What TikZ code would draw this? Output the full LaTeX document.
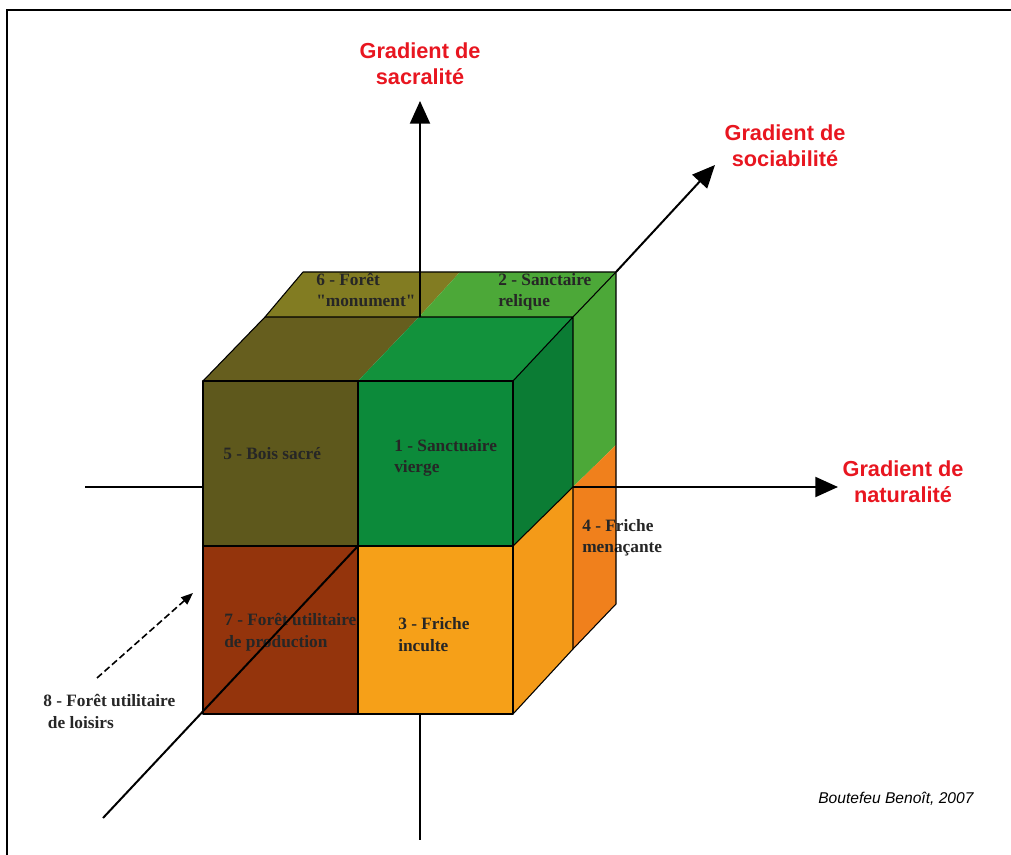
\documentclass[tikz,border=0pt]{standalone}
\usepackage{fontspec}
\setmainfont{Liberation Serif}[Ligatures=TeXOff]
\setsansfont{Liberation Sans}
\usetikzlibrary{arrows.meta}
\definecolor{gradred}{RGB}{232,22,32}
\definecolor{olivedark}{RGB}{94,88,28}
\definecolor{olivetop}{RGB}{102,94,30}
\definecolor{olivelight}{RGB}{130,124,34}
\definecolor{greenfront}{RGB}{12,138,58}
\definecolor{greentop}{RGB}{18,146,60}
\definecolor{greenside}{RGB}{11,124,52}
\definecolor{greenlight}{RGB}{76,168,56}
\definecolor{brownred}{RGB}{148,52,12}
\definecolor{orangefront}{RGB}{246,160,24}
\definecolor{orangeside}{RGB}{244,154,24}
\definecolor{orangedeep}{RGB}{240,128,28}

\begin{document}
\begin{tikzpicture}[
    x=0.75pt, y=-0.75pt,
    cell/.style={font=\bfseries\fontsize{13}{16}\selectfont, align=left, anchor=base west, inner sep=0pt, text=black!85},
    grad/.style={font=\sffamily\bfseries\fontsize{16.3}{20}\selectfont, text=gradred, align=center, anchor=base, inner sep=0pt},
    rim/.style={line width=0.8pt, line join=round},
    gaxis/.style={line width=1.5pt, -{Triangle[length=17pt, width=15pt]}},
    gline/.style={line width=1.5pt}
]
  \useasboundingbox (0,0) rectangle (1011,855);
  \draw[line width=1.5pt] (7,855) -- (7,10) -- (1011,10);

  % corners: front, middle and back planes
  \coordinate (F00) at (203,381); \coordinate (F10) at (358,381); \coordinate (F20) at (513,381);
  \coordinate (F01) at (203,546); \coordinate (F11) at (358,546); \coordinate (F21) at (513,546);
  \coordinate (F02) at (203,714); \coordinate (F12) at (358,714); \coordinate (F22) at (513,714);
  \coordinate (M00) at (265,317); \coordinate (M10) at (419,317); \coordinate (M20) at (573,317);
  \coordinate (M21) at (573,487); \coordinate (M22) at (573,649);
  \coordinate (B00) at (303,272); \coordinate (B10) at (460,272); \coordinate (B20) at (616,272);
  \coordinate (B21) at (616,445); \coordinate (B22) at (616,604);

  % faces
  \fill[olivedark] (F00) rectangle (F11);
  \fill[greenfront] (F10) rectangle (F21);
  \fill[brownred] (F01) rectangle (F12);
  \fill[orangefront] (F11) rectangle (F22);
  \fill[olivetop] (F00) -- (M00) -- (M10) -- (F10) -- cycle;
  \fill[greentop] (F10) -- (M10) -- (M20) -- (F20) -- cycle;
  \fill[olivelight] (M00) -- (B00) -- (B10) -- (M10) -- cycle;
  \fill[greenlight] (M10) -- (B10) -- (B20) -- (M20) -- cycle;
  \fill[greenside] (F20) -- (M20) -- (M21) -- (F21) -- cycle;
  \fill[orangeside] (F21) -- (M21) -- (M22) -- (F22) -- cycle;
  \fill[greenlight] (M20) -- (B20) -- (B21) -- (M21) -- cycle;
  \fill[orangedeep] (M21) -- (B21) -- (B22) -- (M22) -- cycle;

  % labels (base = last line)
  \node[cell] (forest6) at (316,307) {6 - Forêt\\"monument"};
  \node[cell] (sanct2) at (498,307) {2 - Sanctaire\\relique};
  \node[cell] (bois5) at (223,460) {5 - Bois sacré};
  \node[cell] (sanct1) at (394,473) {1 - Sanctuaire\\vierge};
  \node[cell] (forest7) at (224,647) {7 - Forêt utilitaire\\de production};
  \node[cell] (friche3) at (398,651) {3 - Friche\\inculte};
  \node[cell] (friche4) at (582,553) {4 - Friche\\menaçante};
  \node[cell] (forest8) at (43,728) {8 - Forêt utilitaire\\\hspace*{3.5pt}de loisirs};

  \node[grad] (sacLbl) at (420,85) {Gradient de\\sacralité};
  \node[grad] (socLbl) at (785,167) {Gradient de\\sociabilité};
  \node[grad] (natLbl) at (903,503) {Gradient de\\naturalité};
  \node[font=\sffamily\itshape\fontsize{11.7}{14}\selectfont, anchor=base west, inner sep=0pt] (credit) at (818,803) {Boutefeu Benoît, 2007};

  % edges
  \draw[rim] (F00) rectangle (F22);
  \draw[rim] (F10) -- (F12) (F01) -- (F21);
  \draw[rim] (F00) -- (M00) -- (B00) -- (B20) -- (B22) -- (M22) -- (F22);
  \draw[rim] (M00) -- (M20) -- (F20) (M20) -- (M22) (M20) -- (B20);
  \draw[rim] (F21) -- (M21);

  % axes
  \coordinate (sacTip) at (420,101);
  \coordinate (sacLow) at (420,840);
  \coordinate (socTip) at (715,165);
  \coordinate (socLow) at (103,818);
  \coordinate (natTip) at (838,487);
  \coordinate (natLow) at (85,487);
  \draw[gaxis] (420,317) -- (sacTip);
  \draw[gline] (420,714) -- (sacLow);
  \draw[gaxis] (B20) -- (socTip);
  \draw[gline] (socLow) -- (F11);
  \draw[gaxis] (M21) -- (natTip);
  \draw[gline] (natLow) -- (203,487);

  \coordinate (dashLow) at (97,678);
  \coordinate (dashTip) at (193,593);
  \draw[line width=1.2pt, dash pattern=on 5pt off 2.5pt, -{Triangle[length=9pt, width=7pt]}] (dashLow) -- (dashTip);
\end{tikzpicture}
\end{document}
